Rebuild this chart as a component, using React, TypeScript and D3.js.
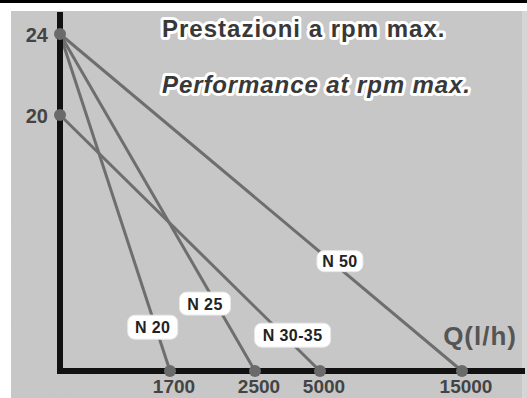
import * as d3 from "d3";

const WIDTH = 527;
const HEIGHT = 398;

// pump curves: head at zero flow -> max flow at zero head
const models = ["N 20", "N 25", "N 30-35", "N 50"];
const maxHead = [24, 24, 20, 24];
const maxFlow = [1700, 2500, 5000, 15000];
const flowTicks = [1700, 2500, 5000, 15000];
const headTicks = [24, 20];

// the drawing is schematic, so both axes are piecewise scales
const x = d3
  .scaleLinear()
  .domain([0, 1700, 2500, 5000, 15000])
  .range([60, 170, 255, 320, 462]);
const y = d3.scaleLinear().domain([0, 20, 24]).range([371, 115, 34]);

// where along each line the label box sits
const labelT = [0.87, 0.8, 0.86, 0.674];
const labelDx = [-3, -11, 9, 9];
const labelW = [50, 51, 76, 46];
const labelH = [24, 23, 24, 21];

const line = d3
  .line<[number, number]>()
  .x((d) => x(d[0]))
  .y((d) => y(d[1]));

const FONT = "'Liberation Sans', Arial, sans-serif";

export default function App() {
  const curves = models.map((name, i) => {
    const pts: [number, number][] = [
      [0, maxHead[i]],
      [maxFlow[i], 0],
    ];
    const t = labelT[i];
    const lx = x(0) + (x(maxFlow[i]) - x(0)) * t + labelDx[i];
    const ly = y(maxHead[i]) + (y(0) - y(maxHead[i])) * t;
    return { name, pts, lx, ly, w: labelW[i], h: labelH[i] };
  });

  return (
    <svg
      width={WIDTH}
      height={HEIGHT}
      style={{ position: "absolute", left: 0, top: 0, background: "#fff" }}
    >
      <defs>
        <filter id="grain" x="0" y="0" width="100%" height="100%">
          <feTurbulence type="fractalNoise" baseFrequency="0.9" numOctaves={2} seed={3} />
          <feColorMatrix
            type="matrix"
            values="0 0 0 0 0.5  0 0 0 0 0.5  0 0 0 0 0.5  0 0 0 0.18 0"
          />
        </filter>
      </defs>

      {/* frame */}
      <rect x={0} y={0} width={WIDTH} height={3} fill="#000" />
      <rect x={11} y={11} width={511} height={HEIGHT - 11} fill="#c8c8c8" />
      <rect x={522} y={11} width={5} height={HEIGHT - 11} fill="#d8d8d8" />
      <rect x={11} y={11} width={516} height={HEIGHT - 11} filter="url(#grain)" />

      {/* titles */}
      <g
        fontFamily={FONT}
        fontWeight="bold"
        fill="#383838"
        stroke="#fff"
        strokeWidth={6}
        strokeLinejoin="round"
        style={{ paintOrder: "stroke" }}
      >
        <text x={162} y={37} fontSize={24} letterSpacing={1}>
          Prestazioni a rpm max.
        </text>
        <text x={162} y={93} fontSize={24} fontStyle="italic" letterSpacing={0.9}>
          Performance at rpm max.
        </text>
      </g>

      {/* curves */}
      {curves.map((c) => (
        <path key={c.name} d={line(c.pts) ?? ""} stroke="#6e6e6e" strokeWidth={3} fill="none" />
      ))}

      {/* axes */}
      <line x1={60} x2={60} y1={12} y2={373} stroke="#111" strokeWidth={6} />
      <line x1={57} x2={525} y1={371} y2={371} stroke="#111" strokeWidth={6} />

      {/* end points */}
      {headTicks.map((h) => (
        <circle key={"h" + h} cx={x(0)} cy={y(h)} r={6} fill="#6a6a6a" />
      ))}
      {flowTicks.map((q) => (
        <circle key={"q" + q} cx={x(q)} cy={y(0)} r={6} fill="#6a6a6a" />
      ))}

      {/* tick labels */}
      <g fontFamily={FONT} fontWeight="bold" fill="#444">
        {headTicks.map((h) => (
          <text key={h} x={x(0) - 12} y={y(h) + 8} fontSize={20} textAnchor="end">
            {h}
          </text>
        ))}
        {flowTicks.map((q) => (
          <text key={q} x={x(q) + 4} y={393} fontSize={19} textAnchor="middle">
            {q}
          </text>
        ))}
        <text x={517} y={345} fontSize={26} textAnchor="end" fill="#555" letterSpacing={1}>
          Q(l/h)
        </text>
      </g>

      {/* series labels */}
      {curves.map((c) => (
        <g key={"l" + c.name} transform={`translate(${c.lx},${c.ly})`}>
          <rect
            x={-c.w / 2}
            y={-c.h / 2}
            width={c.w}
            height={c.h}
            rx={7}
            fill="#fff"
            stroke="#e8e8e8"
            strokeWidth={1}
          />
          <text
            y={6}
            textAnchor="middle"
            fontFamily={FONT}
            fontWeight="bold"
            fontSize={16}
            letterSpacing={0.4}
            fill="#222"
          >
            {c.name}
          </text>
        </g>
      ))}
    </svg>
  );
}
